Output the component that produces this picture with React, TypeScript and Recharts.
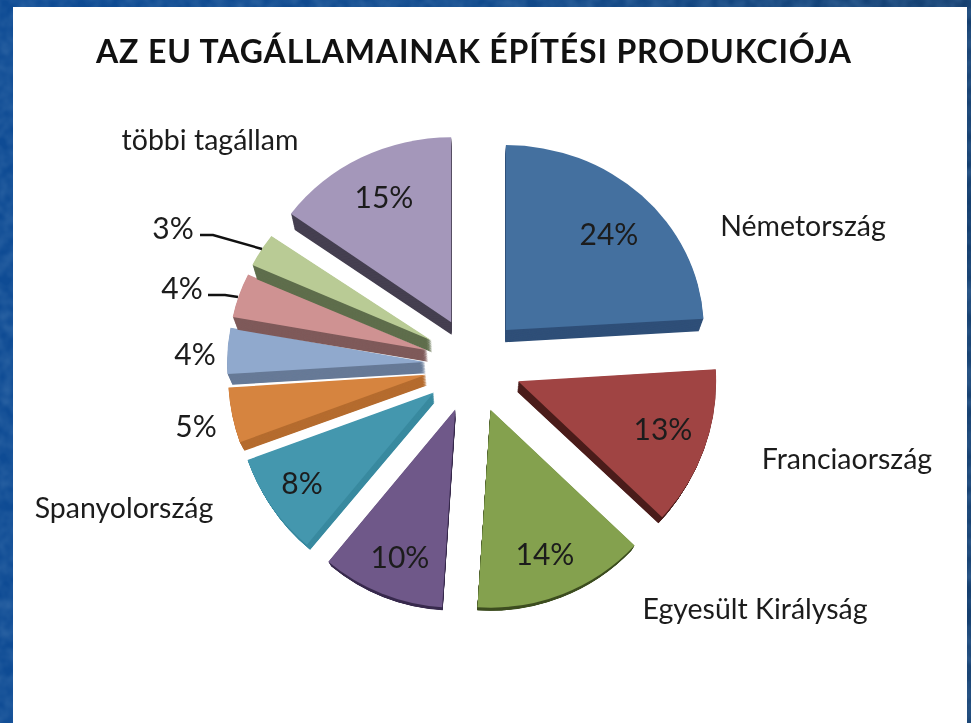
import { Pie, PieChart, Sector } from "recharts";

const TITLE = "AZ EU TAGÁLLAMAINAK ÉPÍTÉSI PRODUKCIÓJA";

// clockwise from 12 o'clock
const sliceNames = [
  "Németország",
  "Franciaország",
  "Egyesült Királyság",
  "",
  "Spanyolország",
  "",
  "",
  "",
  "",
  "többi tagállam",
];
const sliceValues = [24, 13, 14, 10, 8.4, 4.5, 4, 4, 3, 15];
const percentLabels = ["24%", "13%", "14%", "10%", "8%", "5%", "4%", "4%", "3%", "15%"];

const topColors = ["#44709f", "#a04443", "#84a14e", "#6f5889", "#4497ae", "#d6843f", "#90a9cd", "#cf9292", "#b9cb95", "#a497ba"];
const wallColors = ["#2f4f78", "#4a1c1a", "#3f4f22", "#3a2c4f", "#3a8aa0", "#b56c2f", "#677a97", "#7f5a5a", "#5f6e4c", "#453f50"];
// the far half of the pie is foreshortened in the 3D view
const squash = [0.934, 1, 1, 1, 1, 1, 0.934, 0.9, 0.9, 0.934];

const W = 971;
const H = 723;
const CX = 473;
const CY = 365;
const R = 198;
const EXPLODE = 48;

// fake 3D: the lower face shrinks toward a point under the pie
const VANISH_X = 470;
const VANISH_Y = 700;
const WALL_STEPS = 18;

const percentPos = [
  [609, 233], [663, 428], [545, 553], [400, 556], [302, 482],
  [196, 425], [195, 353], [182, 287], [173, 227], [384, 196],
];
const namePos: Record<number, [number, number]> = {
  0: [803, 225],
  1: [847, 458],
  2: [755, 608],
  4: [124, 507],
  9: [210, 139],
};
const leaders: Record<number, string> = {
  7: "208,295 225,295 238,297",
  8: "200,235 213,235 262,249",
};

const rows = sliceValues.map((value, i) => ({
  name: sliceNames[i] || percentLabels[i],
  value,
  idx: i,
}));

const FONT = "Lato, Carlito, sans-serif";
const INK = "#1c1c1c";

function ExplodedSlice(props: any) {
  const { cx, cy, outerRadius, startAngle, endAngle, midAngle } = props;
  const idx = props.idx ?? props.payload?.idx ?? props.index;
  const rad = (midAngle * Math.PI) / 180;
  const x = cx + EXPLODE * Math.cos(rad);
  const y = cy - EXPLODE * Math.sin(rad);
  const face = (fill: string) => (
    <g transform={`translate(0 ${y}) scale(1 ${squash[idx]}) translate(0 ${-y})`}>
      <Sector cx={x} cy={y} innerRadius={0} outerRadius={outerRadius} startAngle={startAngle} endAngle={endAngle} fill={fill} stroke="none" />
    </g>
  );
  const layers = [];
  for (let s = WALL_STEPS; s >= 1; s--) {
    const t = s / WALL_STEPS;
    const sx = 1 - 0.02 * t;
    const sy = 1 - 0.033 * t;
    layers.push(
      <g
        key={s}
        transform={`translate(${VANISH_X} ${VANISH_Y}) scale(${sx} ${sy}) translate(${-VANISH_X} ${-VANISH_Y})`}
      >
        {face(wallColors[idx])}
      </g>
    );
  }
  return (
    <g>
      {layers}
      {face(topColors[idx])}
    </g>
  );
}

function SliceLabel(props: any) {
  const i = props.index;
  const [px, py] = percentPos[i];
  const nm = namePos[i];
  return (
    <g>
      {leaders[i] && <polyline points={leaders[i]} fill="none" stroke="#111" strokeWidth={2.4} />}
      <text x={px} y={py} textAnchor="middle" dominantBaseline="central" fontFamily={FONT} fontSize={30} fill={INK}>
        {percentLabels[i]}
      </text>
      {nm && (
        <text x={nm[0]} y={nm[1]} textAnchor="middle" dominantBaseline="central" fontFamily={FONT} fontSize={28.5} fill={INK}>
          {sliceNames[i]}
        </text>
      )}
    </g>
  );
}

export default function App() {
  return (
    <div
      style={{
        position: "absolute",
        left: 0,
        top: 0,
        width: W,
        height: H,
        overflow: "hidden",
        background: "linear-gradient(90deg, #0e4b94 0%, #114a8c 50%, #153f6f 100%)",
      }}
    >
      {/* mottled slide background */}
      <svg width={W} height={H} style={{ position: "absolute", left: 0, top: 0, opacity: 0.35 }}>
        <filter id="mottle">
          <feTurbulence type="fractalNoise" baseFrequency="0.08" numOctaves={2} seed={4} />
          <feColorMatrix values="0 0 0 0 0.1  0 0 0 0 0.25  0 0 0 0 0.5  0 0 0 1.6 -0.4" />
        </filter>
        <rect width={W} height={H} filter="url(#mottle)" />
      </svg>
      <div style={{ position: "absolute", left: 13, top: 7, width: 954, height: 716, background: "#fff" }} />
      <div style={{ position: "absolute", left: 0, top: 0, filter: "blur(0.6px)" }}>
        <PieChart width={W} height={H} margin={{ top: 0, right: 0, bottom: 0, left: 0 }}>
          <text x={473.5} y={50} textAnchor="middle" dominantBaseline="central" fontFamily={FONT} fontSize={32} fontWeight={700} textLength={755} lengthAdjust="spacing" fill="#111">
            {TITLE}
          </text>
          <Pie
            data={rows}
            dataKey="value"
            nameKey="name"
            cx={CX}
            cy={CY}
            innerRadius={0}
            outerRadius={R}
            startAngle={90}
            endAngle={-270}
            stroke="none"
            shape={ExplodedSlice}
            label={SliceLabel}
            labelLine={false}
            isAnimationActive={false}
          />
        </PieChart>
      </div>
    </div>
  );
}
